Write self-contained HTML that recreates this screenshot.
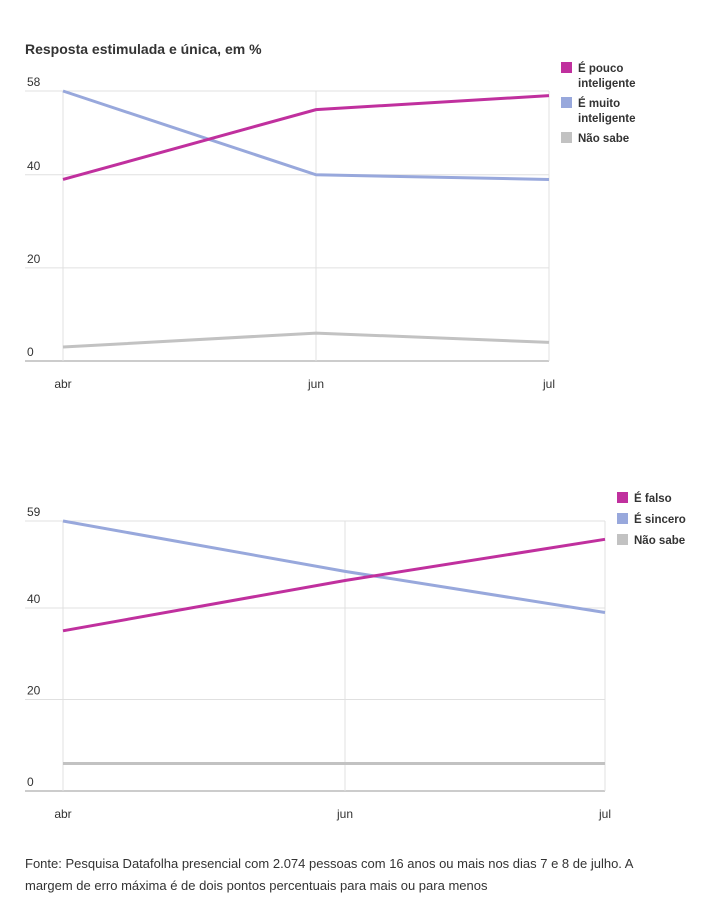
<!DOCTYPE html>
<html><head><meta charset="utf-8"><style>
body{margin:0;background:#fff;font-family:"Liberation Sans",sans-serif;}
svg text{font-family:"Liberation Sans",sans-serif;}
.note{position:absolute;left:25px;top:853px;width:645px;font-size:13px;line-height:22px;color:#333;}
</style></head><body>
<svg width="717" height="921" style="position:absolute;left:0;top:0">
<text x="25" y="54" font-size="14" font-weight="bold" fill="#333">Resposta estimulada e única, em %</text>
<g id="c1"></g><g id="c2"></g>
</svg>
<div class="note">Fonte: Pesquisa Datafolha presencial com 2.074 pessoas com 16 anos ou mais nos dias 7 e 8 de julho. A margem de erro máxima é de dois pontos percentuais para mais ou para menos</div>
<script>
const cats=["abr","jun","jul"];
const c1Pouco=[39,54,57];
const c1Muito=[58,40,39];
const c1NaoSabe=[3,6,4];
const c1Ticks=[0,20,40,58];
const c2Falso=[35,46,55];
const c2Sincero=[59,48,39];
const c2NaoSabe=[6,6,6];
const c2Ticks=[0,20,40,59];
const NS="http://www.w3.org/2000/svg";
function mk(p,t,a){const e=document.createElementNS(NS,t);for(const k in a)e.setAttribute(k,a[k]);p.appendChild(e);return e;}
function chart(g,cfg){
  const y=v=>cfg.y0-(v-0)*(cfg.y0-cfg.yTop)/cfg.max;
  const x=i=>cfg.xs[0]+(cfg.xs[1]-cfg.xs[0])*cfg.pos[i];
  cfg.ticks.forEach(t=>{
    const l=mk(g,"line",{x1:25,x2:cfg.right,y1:y(t),y2:y(t),stroke:t===0?"#999":"#e0e0e0","stroke-width":1});
    
    
    const tx=mk(g,"text",{x:27,y:y(t)-5,"font-size":12,fill:"#333"});tx.textContent=t;
    
    
  });
  cats.forEach((c,i)=>{
    const l=mk(g,"line",{x1:x(i),x2:x(i),y1:cfg.yTop,y2:cfg.y0,stroke:"#e0e0e0"});
    
    
    const tx=mk(g,"text",{x:x(i),y:cfg.y0+27,"font-size":12,fill:"#333","text-anchor":"middle"});tx.textContent=c;
    
    
  });
  cfg.series.forEach(s=>{
    const p=mk(g,"polyline",{points:s.v.map((v,i)=>x(i)+","+y(v)).join(" "),fill:"none",stroke:s.c,"stroke-width":3});
    
    
  });
  cfg.legend.forEach(l=>{
    const r=mk(g,"rect",{x:cfg.lx,y:l.y-9,width:11,height:11,fill:l.c});
    
    
    l.t.forEach((t,k)=>{const tx=mk(g,"text",{x:cfg.lx+17,y:l.y+1+k*15,"font-size":11.5,"font-weight":"bold",fill:"#333"});tx.textContent=t;
    
    });
  });
}
const P="#c0309e",B="#98a8dc",G="#c2c2c2";
chart(document.getElementById("c1"),{y0:361,yTop:91,max:58,ticks:c1Ticks,xs:[63,549],pos:[0,(316-63)/486,1],right:549,
 series:[{n:"nao-sabe",v:c1NaoSabe,c:G},{n:"muito-inteligente",v:c1Muito,c:B},{n:"pouco-inteligente",v:c1Pouco,c:P}],
 lx:561,legend:[{y:71,c:P,t:["É pouco","inteligente"]},{y:106,c:B,t:["É muito","inteligente"]},{y:141,c:G,t:["Não sabe"]}]});
chart(document.getElementById("c2"),{y0:791,yTop:521,max:59,ticks:c2Ticks,xs:[63,605],pos:[0,(345-63)/542,1],right:605,
 series:[{n:"nao-sabe",v:c2NaoSabe,c:G},{n:"sincero",v:c2Sincero,c:B},{n:"falso",v:c2Falso,c:P}],
 lx:617,legend:[{y:501,c:P,t:["É falso"]},{y:522,c:B,t:["É sincero"]},{y:543,c:G,t:["Não sabe"]}]});
</script>
</body></html>
